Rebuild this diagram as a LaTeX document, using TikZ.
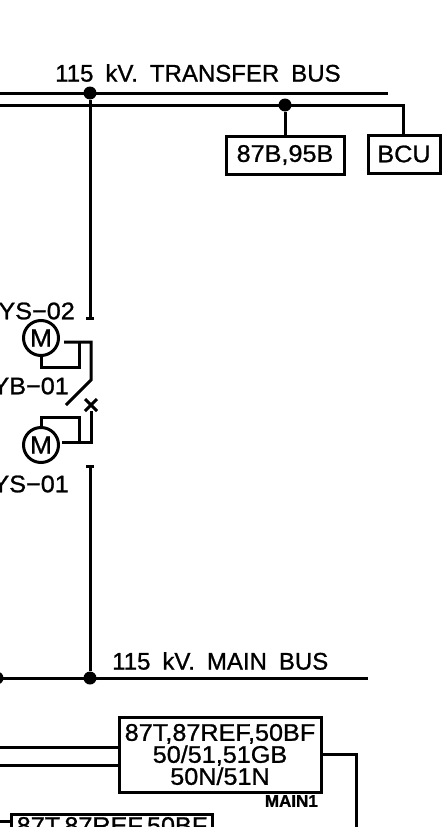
\documentclass[tikz,border=0pt]{standalone}
\usepackage{fontspec}
\setmainfont{Liberation Sans}[FakeBold=1]
\newfontfamily\busfont{Liberation Sans}[FakeBold=1,WordSpace=1.8]
\newfontfamily\boxfont{Liberation Sans}[FakeBold=1,FakeStretch=1.05]
\usetikzlibrary{shapes.misc}

\tikzset{
    wire/.style={line width=3pt},
    junction/.style={circle,fill=black,inner sep=0pt,minimum size=13pt},
    relaybox/.style={draw,line width=3pt,inner sep=0pt},
    motor/.style={circle,draw,line width=3pt,inner sep=0pt,minimum size=35pt,font=\boxfont\fontsize{25}{25}\selectfont},
    lbl/.style={inner sep=0pt,font=\boxfont\fontsize{24}{22}\selectfont},
    buslbl/.style={inner sep=0pt,font=\busfont\fontsize{24}{22}\selectfont},
    crossmark/.style={cross out,draw,line width=3pt,inner sep=0pt,minimum size=9pt}
}

\begin{document}
\begin{tikzpicture}[x=1pt,y=-1pt]
\useasboundingbox (0,0) rectangle (444,827);
\clip (0,0) rectangle (444,827);

% buses
\coordinate (tbL) at (0,93);
\coordinate (tbR) at (388,93);
\coordinate (auxL) at (0,105);
\coordinate (auxC) at (403,105);
\coordinate (mbL) at (0,678);
\coordinate (mbR) at (368,678);
\node[junction] (j1) at (90,93) {};
\node[junction] (j2) at (285,105) {};
\node[junction] (j3) at (90,678) {};
\node[junction] (j4) at (-3,678) {};

\node[buslbl,anchor=west] (tbname) at (55,73) {115 kV. TRANSFER BUS};
\node[buslbl,anchor=west] (mbname) at (112,661) {115 kV. MAIN BUS};

% relay boxes
\node[relaybox,lbl,minimum width=118pt,minimum height=38pt] (b87b) at (285,155) {87B,95B};
\node[relaybox,lbl,minimum width=72pt,minimum height=38pt] (bcu) at (404,154) {BCU};
\node[relaybox,lbl,align=center,minimum width=202pt,minimum height=75pt] (main1) at (220,754.5) {87T,87REF,50BF\\50/51,51GB\\50N/51N};
\node[relaybox,anchor=north west,minimum width=201pt,minimum height=75pt] (main2) at (10,813) {};
\node[lbl] (main2txt) at (main2.north |- 0,827) {87T,87REF,50BF};
\node[inner sep=0pt,anchor=east,font=\fontsize{17}{17}\bfseries\selectfont] (m1tag) at (318,801) {MAIN1};

% switch
\node[lbl,anchor=east] (ys02) at (75,311) {YS−02};
\node[lbl,anchor=east] (yb01) at (69,386) {YB−01};
\node[lbl,anchor=east] (ys01) at (69,484) {YS−01};
\node[motor] (m2) at (41,338) {M};
\node[motor] (m1) at (41,445) {M};
\node[crossmark] (x1) at (91,405) {};

\coordinate (t1) at (90,318);
\coordinate (t1a) at (86,318);
\coordinate (t1b) at (94,318);
\coordinate (t2) at (90,466);
\coordinate (t2a) at (86,466);
\coordinate (t2b) at (94,466);
\coordinate (s1) at (64,342);
\coordinate (s2) at (91,342);
\coordinate (s3) at (91,380);
\coordinate (s4) at (66,405);
\coordinate (s5) at (79,342);
\coordinate (s6) at (79,367);
\coordinate (s7) at (41,367);
\coordinate (s8) at (62,442);
\coordinate (s9) at (91,442);
\coordinate (s10) at (79,442);
\coordinate (s11) at (79,417);
\coordinate (s12) at (41,417);

\draw[wire] (tbL) -- (tbR);
\draw[wire] (auxL) -- (auxC) -- (auxC |- bcu.north);
\draw[wire] (j2) -- (b87b.north -| j2);
\draw[wire] (j1) -- (t1);
\draw[wire] (t1a) -- (t1b);
\draw[wire] (t2) -- (j3);
\draw[wire] (t2a) -- (t2b);
\draw[wire] (mbL) -- (mbR);
\draw[wire] (s1) -- (s2) -- (s3) -- (s4);
\draw[wire] (s5) -- (s6) -- (s7) -- (m2.south);
\draw[wire] (s8) -- (s9) -- (x1);
\draw[wire] (s10) -- (s11) -- (s12) -- (m1.north);

\coordinate (a1) at (0,747);
\coordinate (a2) at (0,765);
\coordinate (a3) at (0,821);
\coordinate (r1) at (356,754);
\coordinate (r2) at (356,827);
\draw[wire] (a1) -- (a1 -| main1.west);
\draw[wire] (a2) -- (a2 -| main1.west);
\draw[wire] (a3) -- (a3 -| main2.west);
\draw[wire] (r1 -| main1.east) -- (r1) -- (r2);
\end{tikzpicture}
\end{document}
